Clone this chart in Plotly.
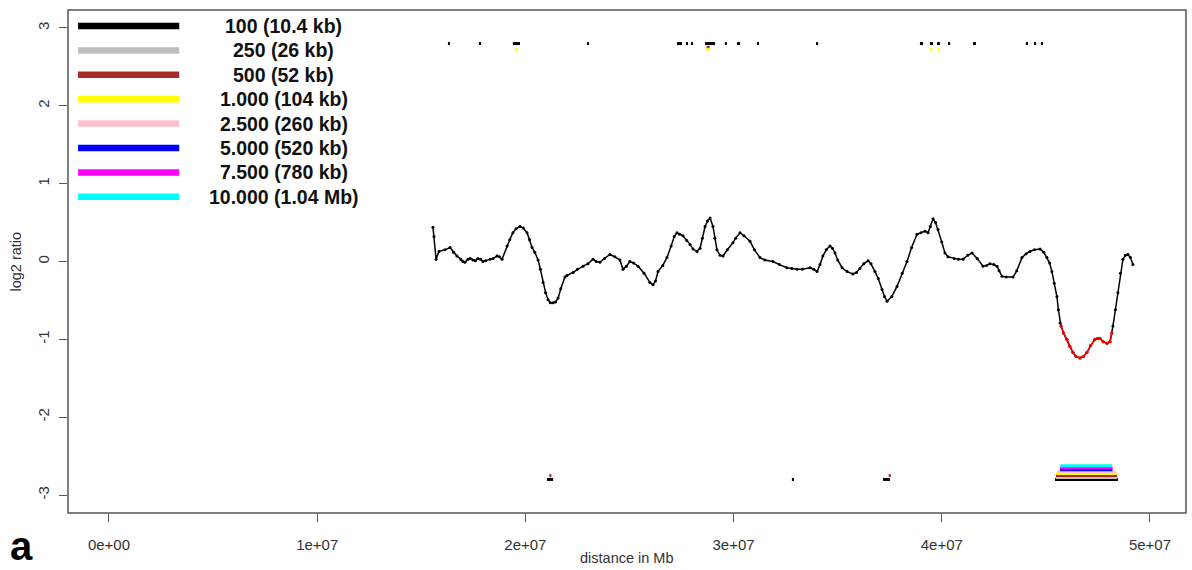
import plotly.graph_objects as go

# Smoothed log2 ratio profile: genomic position (Mb) and value
curve_mb = [15.56, 15.61, 15.71, 15.85, 16.14, 16.38, 16.55, 16.71, 16.90, 17.00,
            17.10, 17.24, 17.35, 17.48, 17.60, 17.72, 17.85, 17.96, 18.10, 18.30,
            18.45, 18.64, 18.75, 18.88, 19.12, 19.25, 19.40, 19.55, 19.74, 19.90,
            20.08, 20.20, 20.32, 20.45, 20.61, 20.72, 20.85, 20.97, 21.09, 21.20,
            21.33, 21.45, 21.57, 21.70, 21.90, 22.00, 22.29, 22.50, 22.77, 23.00,
            23.25, 23.40, 23.58, 23.80, 24.06, 24.30, 24.54, 24.69, 24.85, 25.02,
            25.20, 25.41, 25.70, 25.98, 26.13, 26.25, 26.37, 26.60, 26.80, 27.00,
            27.15, 27.28, 27.40, 27.57, 27.75, 27.91, 28.05, 28.24, 28.39, 28.50,
            28.63, 28.75, 28.87, 29.01, 29.10, 29.20, 29.35, 29.49, 29.70, 29.97,
            30.10, 30.31, 30.50, 30.79, 31.00, 31.27, 31.50, 31.89, 32.20, 32.56,
            32.80, 33.05, 33.30, 33.67, 33.85, 34.01, 34.15, 34.29, 34.45, 34.63,
            34.75, 34.87, 35.00, 35.21, 35.45, 35.73, 35.90, 36.07, 36.25, 36.46,
            36.60, 36.79, 36.95, 37.13, 37.25, 37.37, 37.60, 37.85, 38.10, 38.33,
            38.55, 38.81, 39.00, 39.19, 39.34, 39.45, 39.58, 39.70, 39.82, 40.00,
            40.15, 40.30, 40.60, 40.80, 41.02, 41.25, 41.45, 41.70, 41.98, 42.15,
            42.31, 42.50, 42.65, 42.75, 42.89, 43.10, 43.42, 43.60, 43.85, 44.05,
            44.24, 44.45, 44.72, 44.90, 45.05, 45.18, 45.29, 45.40, 45.53, 45.60,
            45.68, 45.73, 45.85, 46.01, 46.15, 46.30, 46.45, 46.64, 46.80, 46.97,
            47.15, 47.36, 47.48, 47.60, 47.75, 47.93, 48.08, 48.17, 48.22, 48.34,
            48.46, 48.58, 48.70, 48.82, 48.94, 49.06, 49.18]
curve_log2 = [0.44, 0.32, 0.03, 0.13, 0.15, 0.18, 0.12, 0.07, 0.03, 0.00,
              -0.01, 0.03, 0.04, 0.02, 0.01, 0.04, 0.03, 0.00, 0.01, 0.03,
              0.04, 0.07, 0.06, 0.03, 0.20, 0.28, 0.37, 0.42, 0.45, 0.43,
              0.37, 0.28, 0.18, 0.12, 0.02, -0.10, -0.27, -0.40, -0.49, -0.53,
              -0.53, -0.52, -0.47, -0.35, -0.20, -0.18, -0.14, -0.10, -0.06, -0.03,
              0.03, 0.00, -0.01, 0.04, 0.09, 0.06, 0.02, -0.10, -0.06, 0.00,
              -0.02, -0.06, -0.15, -0.27, -0.30, -0.25, -0.13, -0.05, 0.05, 0.20,
              0.32, 0.37, 0.35, 0.33, 0.27, 0.22, 0.16, 0.13, 0.17, 0.30,
              0.45, 0.52, 0.56, 0.45, 0.30, 0.15, 0.08, 0.07, 0.15, 0.24,
              0.30, 0.37, 0.33, 0.26, 0.15, 0.05, 0.02, 0.00, -0.04, -0.08,
              -0.09, -0.10, -0.10, -0.08, -0.10, -0.13, -0.04, 0.07, 0.15, 0.20,
              0.17, 0.11, 0.02, -0.08, -0.13, -0.16, -0.14, -0.09, -0.03, 0.01,
              -0.03, -0.13, -0.22, -0.36, -0.45, -0.51, -0.45, -0.32, -0.15, 0.00,
              0.18, 0.35, 0.37, 0.39, 0.37, 0.45, 0.55, 0.50, 0.41, 0.25,
              0.11, 0.06, 0.04, 0.03, 0.03, 0.08, 0.11, 0.04, -0.06, -0.05,
              -0.03, -0.04, -0.06, -0.12, -0.19, -0.20, -0.20, -0.12, 0.05, 0.10,
              0.13, 0.15, 0.16, 0.12, 0.05, -0.02, -0.13, -0.28, -0.45, -0.62,
              -0.79, -0.83, -0.92, -1.00, -1.09, -1.17, -1.22, -1.24, -1.22, -1.17,
              -1.08, -1.00, -0.99, -0.99, -1.03, -1.05, -1.03, -0.92, -0.83, -0.62,
              -0.40, -0.15, 0.03, 0.08, 0.09, 0.05, -0.04]

# Called loss region (Mb) highlighted on the profile
loss_region_mb = [45.70, 48.20]

# Window sizes and their colours
window_labels = ["100 (10.4 kb)", "250 (26 kb)", "500 (52 kb)", "1.000 (104 kb)",
                 "2.500 (260 kb)", "5.000 (520 kb)", "7.500 (780 kb)", "10.000 (1.04 Mb)"]
window_colors = ["#000000", "#BEBEBE", "#A52A2A", "#FFFF00",
                 "#FFC0CB", "#0000FF", "#FF00FF", "#00FFFF"]

# Gain calls per window size: [start Mb, end Mb]
gains_100 = [[16.28, 16.38], [17.77, 17.87], [19.40, 19.74], [22.96, 23.06],
             [27.28, 27.52], [27.71, 27.81], [27.95, 28.05], [28.63, 29.11],
             [29.58, 29.68], [30.16, 30.31], [31.12, 31.22], [33.96, 34.06],
             [38.95, 39.10], [39.43, 39.58], [39.77, 39.91], [40.30, 40.40],
             [41.50, 41.64], [44.04, 44.14], [44.43, 44.53], [44.76, 44.86]]
gains_250 = []
gains_500 = [[28.70, 28.85]]
gains_1000 = [[19.50, 19.60], [28.70, 28.85], [39.45, 39.55], [39.80, 39.90]]
gains_2500 = []
gains_5000 = []
gains_7500 = []
gains_10000 = []

# Loss calls per window size: [start Mb, end Mb]
losses_100 = [[21.04, 21.33], [32.80, 32.90], [37.18, 37.51], [45.44, 48.46]]
losses_250 = [[45.48, 48.42]]
losses_500 = [[21.15, 21.25], [37.45, 37.55], [45.48, 48.42]]
losses_1000 = [[45.50, 48.40]]
losses_2500 = [[45.55, 48.35]]
losses_5000 = [[45.68, 48.20]]
losses_7500 = [[45.68, 48.20]]
losses_10000 = [[45.70, 48.17]]

gains = [gains_100, gains_250, gains_500, gains_1000,
         gains_2500, gains_5000, gains_7500, gains_10000]
losses = [losses_100, losses_250, losses_500, losses_1000,
          losses_2500, losses_5000, losses_7500, losses_10000]

# Axis ticks
x_tickvals = [0, 1e7, 2e7, 3e7, 4e7, 5e7]
x_ticktext = ["0e+00", "1e+07", "2e+07", "3e+07", "4e+07", "5e+07"]
y_tickvals = [-3, -2, -1, 0, 1, 2, 3]
y_ticktext = ["-3", "-2", "-1", "0", "1", "2", "3"]

MB = 1e6
FONT = "Arial, Liberation Sans, sans-serif"
GAIN_Y, LOSS_Y, STEP = 2.8, -2.8, 0.025

fig = go.Figure()

# profile: all points in black, then the called region in red
xs = [p * MB for p in curve_mb]
fig.add_trace(go.Scatter(x=xs, y=curve_log2, mode="lines+markers",
                         line=dict(color="black", width=1.5),
                         marker=dict(color="black", size=3),
                         showlegend=False, hoverinfo="skip"))
red_x = [x for x, p in zip(xs, curve_mb) if loss_region_mb[0] <= p <= loss_region_mb[1]]
red_y = [v for v, p in zip(curve_log2, curve_mb) if loss_region_mb[0] <= p <= loss_region_mb[1]]
fig.add_trace(go.Scatter(x=red_x, y=red_y, mode="lines+markers",
                         line=dict(color="red", width=1.5),
                         marker=dict(color="red", size=3),
                         showlegend=False, hoverinfo="skip"))


def segment_trace(segs, level, color):
    sx, sy = [], []
    for s, e in segs:
        sx += [s * MB, e * MB, None]
        sy += [level, level, None]
    return go.Scatter(x=sx, y=sy, mode="lines", line=dict(color=color, width=3),
                      showlegend=False, hoverinfo="skip")


for k, color in enumerate(window_colors):
    if gains[k]:
        fig.add_trace(segment_trace(gains[k], GAIN_Y - k * STEP, color))
    if losses[k]:
        fig.add_trace(segment_trace(losses[k], LOSS_Y + k * STEP, color))

# legend drawn inside the plot area, top-left
for i, (lab, col) in enumerate(zip(window_labels, window_colors)):
    yd = 1 - (16 + i * 24.4) / 503
    fig.add_shape(type="line", xref="x domain", yref="y domain",
                  x0=0.009, x1=0.0995, y0=yd, y1=yd,
                  line=dict(color=col, width=6.5))
    fig.add_annotation(xref="x domain", yref="y domain", x=0.193, y=yd,
                       text="<b>" + lab + "</b>", showarrow=False,
                       xanchor="center", yanchor="middle",
                       font=dict(family=FONT, size=19.5, color="#111"))

# plot frame
fig.add_shape(type="rect", xref="x domain", yref="y domain", x0=0, x1=1, y0=0, y1=1,
              line=dict(color="#555", width=1.5), fillcolor="rgba(0,0,0,0)")

# axis titles and panel letter
fig.add_annotation(xref="paper", yref="paper", x=0, y=0.5, xshift=-53,
                   text="log2 ratio", textangle=-90, showarrow=False,
                   xanchor="center", yanchor="middle",
                   font=dict(family=FONT, size=14.5, color="#333"))
fig.add_annotation(xref="paper", yref="paper", x=0.5, y=0, yshift=-45,
                   text="distance in Mb", showarrow=False,
                   xanchor="center", yanchor="middle",
                   font=dict(family=FONT, size=14.5, color="#333"))
fig.add_annotation(xref="paper", yref="paper", x=0, y=0, xshift=-47, yshift=-56,
                   text="<b>a</b>", showarrow=False, borderpad=0,
                   xanchor="center", yanchor="bottom",
                   font=dict(family=FONT, size=40, color="black"))

fig.update_xaxes(range=[-1.969e6, 5.173e7], tickvals=x_tickvals, ticktext=x_ticktext,
                 ticks="outside", ticklen=8, tickcolor="#555", tickwidth=1.2,
                 showgrid=False, zeroline=False, showline=False,
                 ticklabelstandoff=10,
                 tickfont=dict(family=FONT, size=15, color="#333"))
fig.update_yaxes(range=[-3.231, 3.231], tickvals=y_tickvals, ticktext=y_ticktext,
                 ticks="outside", ticklen=8, tickcolor="#555", tickwidth=1.2,
                 showgrid=False, zeroline=False, showline=False, tickangle=-90,
                 ticklabelstandoff=4,
                 tickfont=dict(family=FONT, size=15, color="#333"))

fig.update_layout(width=1192, height=570, plot_bgcolor="white", paper_bgcolor="white",
                  margin=dict(l=68, r=6, t=10, b=57), showlegend=False)

fig.write_html("out.html")
